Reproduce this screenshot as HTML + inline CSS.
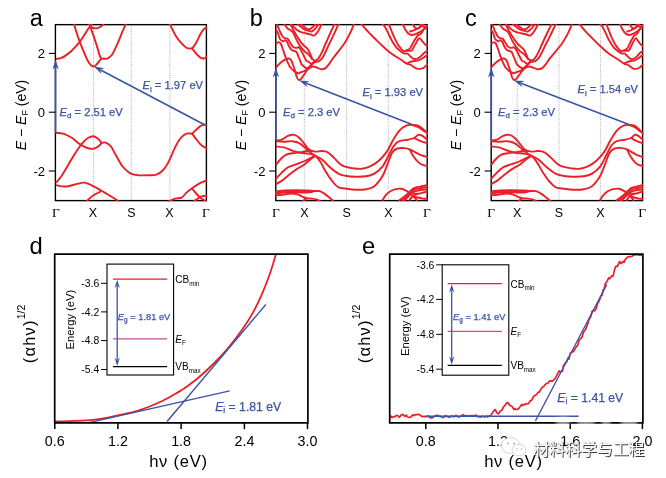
<!DOCTYPE html>
<html><head><meta charset="utf-8"><title>figure</title>
<style>
html,body{margin:0;padding:0;background:#fff;}
body{width:666px;height:478px;overflow:hidden;}
svg{display:block;font-family:"Liberation Sans","Noto Sans CJK SC",sans-serif;}
</style></head><body>
<svg width="666" height="478" viewBox="0 0 666 478">
<rect width="666" height="478" fill="#fff"/>
<clipPath id="ca"><rect x="54.7" y="23.9" width="152.4" height="177.4"/></clipPath>
<line x1="93.6" y1="24.4" x2="93.6" y2="200.4" stroke="#9a9a9a" stroke-width="0.8" stroke-dasharray="1,1.2"/>
<line x1="131.3" y1="24.4" x2="131.3" y2="200.4" stroke="#9a9a9a" stroke-width="0.8" stroke-dasharray="1,1.2"/>
<line x1="169.9" y1="24.4" x2="169.9" y2="200.4" stroke="#9a9a9a" stroke-width="0.8" stroke-dasharray="1,1.2"/>
<rect x="55.40" y="24.65" width="151.00" height="175.95" fill="none" stroke="#000" stroke-width="1.4"/>
<g clip-path="url(#ca)">
<path d="M55.9,59.0C56.7,58.8 59.0,58.7 60.7,58.1C62.4,57.5 64.0,56.7 65.9,55.4C67.8,54.1 70.1,52.2 72.2,50.2C74.3,48.1 76.6,45.6 78.5,43.3C80.4,40.9 82.2,38.3 83.7,35.9C85.3,33.6 86.8,30.8 87.9,29.2C89.0,27.6 89.5,27.3 90.2,26.3C90.9,25.3 91.6,23.9 91.9,23.4" fill="none" stroke="#ea1f27" stroke-width="1.9" />
<path d="M73.5,22.3C73.9,23.7 75.0,27.6 76.0,30.7C77.0,33.8 78.2,37.7 79.5,41.2C80.8,44.7 82.3,48.3 83.7,51.6C85.1,54.9 86.7,58.8 87.9,61.0C89.1,63.3 90.1,64.3 91.0,65.2C92.0,66.1 92.7,66.6 93.6,66.5C94.4,66.4 95.4,65.7 96.3,64.8C97.2,64.0 98.1,62.5 99.0,61.5C99.9,60.4 101.1,59.0 101.5,58.5" fill="none" stroke="#ea1f27" stroke-width="1.9" />
<path d="M88.5,23.4C88.8,23.9 89.4,24.2 90.2,26.3C91.0,28.4 92.4,32.4 93.6,35.9C94.7,39.5 96.3,44.1 97.3,47.4C98.4,50.8 99.1,54.0 99.8,55.8C100.5,57.7 100.7,58.0 101.5,58.5C102.3,59.0 103.6,58.8 104.7,58.7C105.7,58.7 106.6,59.0 107.8,58.3C109.0,57.7 110.4,57.1 112.0,54.8C113.5,52.4 115.5,48.1 117.2,44.3C119.0,40.5 120.9,35.4 122.4,31.7C124.0,28.1 125.9,23.9 126.6,22.3" fill="none" stroke="#ea1f27" stroke-width="1.9" />
<path d="M90.2,26.3C90.7,26.6 92.0,27.7 93.1,28.0C94.3,28.3 96.0,28.5 97.3,28.2C98.7,27.9 100.0,27.1 101.1,26.3C102.2,25.5 103.5,23.9 104.0,23.4" fill="none" stroke="#ea1f27" stroke-width="1.9" />
<path d="M169.0,22.3C169.3,23.0 170.0,24.4 171.0,26.5C172.1,28.6 173.7,32.3 175.2,34.9C176.8,37.5 178.5,40.0 180.5,42.2C182.4,44.4 184.8,46.9 186.7,47.9C188.7,48.8 190.4,48.9 192.0,48.1C193.5,47.2 194.8,44.9 196.2,42.6C197.6,40.3 199.0,36.6 200.3,34.3C201.7,32.0 202.9,29.9 204.1,28.8C205.3,27.7 207.1,27.8 207.7,27.6" fill="none" stroke="#ea1f27" stroke-width="1.9" />
<path d="M192.0,48.1C192.7,49.0 194.7,52.1 196.2,53.7C197.6,55.4 199.4,57.1 200.8,57.9C202.2,58.7 203.4,58.6 204.5,58.3C205.7,58.1 207.2,56.8 207.7,56.4" fill="none" stroke="#ea1f27" stroke-width="1.9" />
<path d="M55.9,132.8C57.2,133.0 61.1,133.0 63.8,133.8C66.6,134.7 69.8,136.5 72.2,138.0C74.7,139.6 76.6,141.9 78.5,143.3C80.4,144.7 82.0,145.5 83.7,146.4C85.5,147.3 87.3,148.1 89.0,148.5C90.6,148.9 92.0,149.0 93.6,148.7C95.1,148.3 97.0,147.3 98.4,146.4C99.7,145.5 100.3,143.9 101.5,143.3C102.7,142.6 104.1,142.1 105.7,142.6C107.3,143.2 109.2,144.2 110.9,146.4C112.7,148.6 114.2,152.5 116.2,155.8C118.1,159.1 120.3,163.5 122.4,166.3C124.5,169.0 127.0,171.0 128.7,172.3C130.5,173.7 131.3,174.0 133.0,174.4C134.6,174.9 136.1,175.1 138.6,175.3C141.1,175.4 145.1,175.4 148.0,175.3C151.0,175.2 154.0,175.5 156.4,174.7C158.8,173.8 160.8,172.4 162.7,170.5C164.6,168.5 166.2,166.3 167.9,163.1C169.7,160.0 171.4,155.3 173.1,151.6C174.9,148.0 176.6,143.9 178.4,141.2C180.1,138.4 182.0,136.6 183.6,135.3C185.2,134.0 186.4,133.7 187.8,133.4C189.2,133.1 190.6,134.0 192.0,133.4C193.4,132.8 194.8,130.9 196.2,129.7C197.6,128.4 199.0,126.9 200.3,126.1C201.7,125.3 202.9,124.9 204.1,124.8C205.3,124.7 207.1,125.4 207.7,125.5" fill="none" stroke="#ea1f27" stroke-width="1.9" />
<path d="M55.9,183.0C56.9,181.8 59.7,178.7 61.7,175.7C63.8,172.7 65.9,168.7 68.0,165.2C70.1,161.7 72.2,158.1 74.3,154.8C76.4,151.5 79.0,147.5 80.6,145.3C82.2,143.2 82.5,143.0 83.7,141.8C84.9,140.6 86.3,138.9 87.9,138.0C89.5,137.1 91.8,136.2 93.6,136.3C95.3,136.5 97.0,138.0 98.4,139.1C99.7,140.2 101.0,142.4 101.5,143.0" fill="none" stroke="#ea1f27" stroke-width="1.9" />
<path d="M55.9,185.1C56.9,185.3 59.7,186.2 61.7,186.4C63.8,186.5 65.6,186.5 68.0,186.2C70.5,185.8 73.8,184.7 76.4,184.1C79.0,183.5 81.6,182.6 83.7,182.6C85.8,182.6 87.0,183.3 89.0,184.1C90.9,184.8 93.1,186.1 95.2,187.2C97.3,188.3 99.4,189.5 101.5,190.8C103.6,192.0 105.7,193.3 107.8,194.5C109.9,195.8 112.2,197.1 114.1,198.3C116.0,199.5 118.4,201.3 119.3,201.9" fill="none" stroke="#ea1f27" stroke-width="1.9" />
<path d="M85.8,201.9C87.0,200.8 91.0,197.1 93.1,195.6C95.2,194.0 97.0,193.5 98.4,192.7C99.8,191.8 101.0,191.1 101.5,190.8" fill="none" stroke="#ea1f27" stroke-width="1.9" />
<path d="M192.0,133.4C192.7,134.4 194.6,137.1 196.2,139.1C197.7,141.1 199.5,143.7 201.4,145.3C203.3,147.0 206.6,148.3 207.7,148.9" fill="none" stroke="#ea1f27" stroke-width="1.9" />
<path d="M167.9,201.9C169.1,201.3 173.0,199.4 175.2,198.7C177.5,198.0 179.6,198.7 181.5,197.7C183.4,196.6 185.0,194.0 186.7,192.4C188.5,190.9 190.1,189.7 192.0,188.3C193.9,186.9 196.3,185.2 198.3,184.1C200.2,183.0 201.9,182.2 203.5,181.6C205.1,180.9 207.0,180.5 207.7,180.3" fill="none" stroke="#ea1f27" stroke-width="1.9" />
<path d="M192.0,188.3C192.7,189.1 194.8,191.9 196.2,193.5C197.6,195.1 199.1,196.6 200.3,197.7C201.6,198.7 202.4,199.1 203.5,199.8C204.6,200.5 206.5,201.5 207.0,201.9" fill="none" stroke="#ea1f27" stroke-width="1.9" />
<path d="M193.0,201.9C194.1,201.2 197.7,198.6 199.3,197.7C200.9,196.7 201.0,196.6 202.4,196.2C203.8,195.9 206.8,195.7 207.7,195.6" fill="none" stroke="#ea1f27" stroke-width="1.9" />
</g>
<line x1="55.6" y1="133.0" x2="55.6" y2="67.0" stroke="#3b54a4" stroke-width="1.6" />
<polygon points="55.6,59.5 58.8,69.5 55.6,66.5 52.4,69.5" fill="#3b54a4"/>
<line x1="205.5" y1="125.2" x2="100.6" y2="70.0" stroke="#3b54a4" stroke-width="1.6" />
<polygon points="94.0,66.5 104.3,68.3 100.2,69.8 101.4,74.0" fill="#3b54a4"/>
<line x1="48.8" y1="53.4" x2="55.4" y2="53.4" stroke="#000" stroke-width="1.1" />
<text x="45.0" y="58.0" font-size="13" text-anchor="end" fill="#000" >2</text>
<line x1="48.8" y1="112.2" x2="55.4" y2="112.2" stroke="#000" stroke-width="1.1" />
<text x="45.0" y="116.8" font-size="13" text-anchor="end" fill="#000" >0</text>
<line x1="48.8" y1="171.0" x2="55.4" y2="171.0" stroke="#000" stroke-width="1.1" />
<text x="45.0" y="175.6" font-size="13" text-anchor="end" fill="#000" >-2</text>
<text transform="translate(25.5,115) rotate(-90)" font-size="14" text-anchor="middle"><tspan font-style="italic">E</tspan> − <tspan font-style="italic">E</tspan><tspan font-size="9" dy="2.5">F</tspan><tspan dy="-2.5"> (eV)</tspan></text>
<text x="56.0" y="216.8" font-size="13.5" text-anchor="middle" fill="#000" font-family="Liberation Serif, serif">Γ</text>
<text x="93.0" y="216.8" font-size="12.5" text-anchor="middle" fill="#000" >X</text>
<text x="131.3" y="216.8" font-size="12.5" text-anchor="middle" fill="#000" >S</text>
<text x="169.4" y="216.8" font-size="12.5" text-anchor="middle" fill="#000" >X</text>
<text x="206.0" y="216.8" font-size="13.5" text-anchor="middle" fill="#000" font-family="Liberation Serif, serif">Γ</text>
<text x="29.8" y="25.8" font-size="23.5" text-anchor="start" fill="#000" >a</text>
<text x="59.5" y="115.6" font-size="11.2" fill="#3b54a4" stroke="#3b54a4" stroke-width="0.25"><tspan font-style="italic">E</tspan><tspan font-size="8" dy="2.5">d</tspan><tspan dy="-2.5"> = 2.51 eV</tspan></text>
<text x="142.5" y="89.2" font-size="11.2" fill="#3b54a4" stroke="#3b54a4" stroke-width="0.25"><tspan font-style="italic">E</tspan><tspan font-size="8" dy="2.5">i</tspan><tspan dy="-2.5"> = 1.97 eV</tspan></text>
<clipPath id="cb"><rect x="275.1" y="23.9" width="152.8" height="177.4"/></clipPath>
<line x1="304.3" y1="24.4" x2="304.3" y2="200.4" stroke="#9a9a9a" stroke-width="0.8" stroke-dasharray="1,1.2"/>
<line x1="346.6" y1="24.4" x2="346.6" y2="200.4" stroke="#9a9a9a" stroke-width="0.8" stroke-dasharray="1,1.2"/>
<line x1="388.3" y1="24.4" x2="388.3" y2="200.4" stroke="#9a9a9a" stroke-width="0.8" stroke-dasharray="1,1.2"/>
<rect x="275.80" y="24.65" width="151.40" height="175.95" fill="none" stroke="#000" stroke-width="1.4"/>
<g clip-path="url(#cb)">
<path d="M275.9,67.3C276.7,66.6 279.0,64.1 280.5,62.8C282.0,61.5 283.6,60.3 285.0,59.6C286.4,58.8 287.8,58.3 288.9,58.5C290.0,58.7 290.7,59.6 291.5,60.8C292.2,62.1 292.8,64.2 293.4,66.0C294.1,67.9 294.8,69.9 295.4,71.9C295.9,73.8 296.3,76.1 296.9,77.5C297.5,78.9 298.2,79.8 298.9,80.0C299.6,80.2 300.4,79.6 301.3,78.6C302.2,77.6 303.3,75.6 304.3,74.2C305.3,72.7 306.2,71.1 307.1,70.0C308.1,68.9 308.9,68.2 310.0,67.6C311.0,67.0 312.1,66.5 313.2,66.5C314.4,66.5 315.7,67.1 317.0,67.6C318.3,68.1 319.8,69.2 321.3,69.3C322.7,69.4 324.2,69.0 325.5,68.1C326.8,67.2 328.0,65.5 329.3,63.8C330.5,62.2 330.5,61.6 333.0,58.2C335.6,54.8 341.6,47.7 344.5,43.3C347.5,38.8 349.2,35.2 350.8,31.7C352.5,28.3 353.8,23.9 354.4,22.3" fill="none" stroke="#ea1f27" stroke-width="1.9" />
<path d="M275.9,44.0C276.4,43.7 277.8,42.2 278.5,42.1C279.3,42.0 279.8,42.4 280.5,43.4C281.1,44.3 281.7,45.8 282.4,47.9C283.2,49.9 284.1,53.3 285.0,55.7C285.9,58.0 286.7,60.2 287.6,62.1C288.5,64.1 289.2,65.9 290.2,67.3C291.2,68.7 292.1,69.6 293.4,70.6C294.7,71.5 296.6,72.9 298.0,73.2C299.3,73.4 300.3,72.4 301.5,72.0C302.6,71.6 303.8,71.4 304.8,70.9C305.8,70.4 306.7,69.8 307.6,69.0C308.5,68.2 309.5,66.9 310.4,65.9C311.4,64.9 312.3,63.6 313.2,62.9C314.2,62.2 315.1,62.0 316.1,61.8C317.0,61.5 317.9,61.8 318.9,61.2C319.9,60.6 321.2,59.5 322.2,58.2C323.2,56.8 324.2,54.7 325.0,53.0C325.9,51.3 325.9,51.0 327.4,47.8C328.9,44.6 332.1,38.1 334.1,33.8C336.1,29.6 338.4,24.2 339.3,22.3" fill="none" stroke="#ea1f27" stroke-width="1.9" />
<path d="M275.9,29.8C276.3,30.3 277.2,31.5 277.9,33.0C278.5,34.5 279.0,37.4 279.8,38.8C280.7,40.2 282.2,41.2 283.1,41.4C283.9,41.6 284.4,40.1 285.0,40.1C285.7,40.1 286.3,40.5 286.9,41.4C287.6,42.4 288.1,44.6 288.9,46.0C289.6,47.4 290.5,49.0 291.5,49.8C292.5,50.7 293.9,50.7 294.7,51.1C295.6,51.6 296.0,51.5 296.7,52.4C297.3,53.4 297.8,55.1 298.6,57.0C299.4,58.8 300.6,62.1 301.2,63.4C301.8,64.8 301.6,64.5 302.4,65.2C303.3,66.0 305.0,67.8 306.2,68.1C307.4,68.4 308.5,67.8 309.5,67.1C310.4,66.5 311.1,65.2 311.8,64.3C312.6,63.4 313.3,62.2 314.2,61.5C315.1,60.8 316.1,60.9 317.0,60.1C318.0,59.2 318.9,57.9 319.8,56.3C320.8,54.7 321.8,52.5 322.7,50.6C323.5,48.8 323.6,48.2 325.0,45.0C326.4,41.8 329.2,35.5 330.9,31.7C332.6,28.0 334.6,23.9 335.3,22.3" fill="none" stroke="#ea1f27" stroke-width="1.9" />
<path d="M276.8,23.9C277.3,25.1 278.9,29.0 279.8,31.1C280.8,33.1 281.6,35.1 282.4,36.2C283.3,37.4 284.1,37.8 285.0,38.2C285.9,38.6 286.7,38.1 287.6,38.8C288.5,39.6 289.3,41.4 290.2,42.7C291.1,44.0 291.8,45.7 292.8,46.6C293.7,47.5 295.0,47.8 296.0,47.9C297.0,48.0 297.8,47.0 298.6,47.3C299.4,47.5 299.8,48.0 300.5,49.2C301.3,50.4 302.2,52.4 303.1,54.4C304.1,56.3 305.6,59.7 306.4,60.8C307.2,62.0 307.2,61.0 308.1,61.5C308.9,62.0 310.5,63.5 311.4,63.8C312.2,64.1 312.9,63.4 313.2,63.4" fill="none" stroke="#ea1f27" stroke-width="1.9" />
<path d="M284.1,23.9C284.7,24.7 286.5,27.4 287.6,28.5C288.7,29.6 289.9,29.7 290.8,30.4C291.8,31.2 292.5,31.4 293.4,33.0C294.4,34.6 295.5,37.9 296.7,40.1C297.8,42.4 299.3,44.8 300.5,46.6C301.8,48.4 303.1,49.8 304.4,51.1C305.8,52.4 307.2,53.1 308.5,54.4C309.9,55.7 311.2,58.1 312.3,59.1C313.4,60.1 314.3,60.4 315.1,60.5C315.9,60.7 316.7,60.1 317.0,60.1" fill="none" stroke="#ea1f27" stroke-width="1.9" />
<path d="M290.2,23.9C290.9,25.3 293.3,29.9 294.7,32.4C296.1,34.8 297.4,37.0 298.6,38.8C299.8,40.7 300.8,42.1 301.8,43.4C302.9,44.7 304.0,45.5 305.1,46.6C306.2,47.7 307.1,47.8 308.3,49.8C309.5,51.9 311.6,57.6 312.3,59.1" fill="none" stroke="#ea1f27" stroke-width="1.9" />
<path d="M291.1,23.9C292.0,24.9 294.9,28.4 296.7,29.8C298.5,31.2 299.6,31.6 301.8,32.4C304.1,33.1 307.9,33.8 310.0,34.3C312.1,34.8 312.8,36.1 314.2,35.5C315.6,34.9 317.1,32.7 318.4,30.7C319.7,28.7 321.3,24.6 321.9,23.4" fill="none" stroke="#ea1f27" stroke-width="1.9" />
<path d="M297.3,23.9C298.4,24.8 301.7,27.9 303.8,29.1C305.9,30.3 308.6,30.7 310.0,31.1C311.4,31.4 311.0,31.9 312.1,31.3C313.1,30.7 315.1,28.9 316.3,27.6C317.4,26.2 318.5,24.1 319.0,23.4" fill="none" stroke="#ea1f27" stroke-width="1.9" />
<path d="M300.5,23.9C301.5,24.7 304.8,27.6 306.4,28.5C307.9,29.3 309.2,29.2 310.0,29.1C310.8,29.0 310.7,28.7 311.5,28.0C312.3,27.3 314.0,25.8 314.8,25.0C315.6,24.3 316.0,23.7 316.3,23.4" fill="none" stroke="#ea1f27" stroke-width="1.9" />
<path d="M360.1,22.3C361.4,23.9 365.3,28.8 368.0,31.7C370.7,34.7 373.6,37.4 376.4,40.1C379.2,42.9 382.8,46.2 385.0,48.2C387.2,50.2 387.9,50.9 389.6,52.2C391.3,53.6 393.4,55.0 395.4,56.3C397.3,57.5 399.2,58.5 401.1,59.7C403.0,61.0 405.3,62.9 406.9,63.7C408.4,64.6 409.3,64.2 410.3,64.7C411.4,65.1 412.2,66.0 413.2,66.6C414.2,67.2 415.0,68.0 416.1,68.3C417.1,68.7 418.3,69.0 419.5,68.9C420.8,68.8 422.2,68.5 423.6,67.8C424.9,67.0 427.1,64.9 427.8,64.3" fill="none" stroke="#ea1f27" stroke-width="1.9" />
<path d="M406.9,63.7C407.3,63.5 408.6,62.6 409.7,62.1C410.9,61.7 412.3,61.3 413.8,61.0C415.2,60.7 416.8,60.9 418.4,60.4C419.9,59.9 421.4,59.0 423.0,58.0C424.6,57.0 427.0,55.1 427.8,54.5" fill="none" stroke="#ea1f27" stroke-width="1.9" />
<path d="M381.2,22.3C381.8,23.1 383.8,25.0 385.0,26.9C386.2,28.8 387.3,31.5 388.5,33.8C389.6,36.1 390.6,38.4 391.9,40.7C393.2,43.0 395.0,45.8 396.5,47.6C398.0,49.4 399.9,50.7 401.1,51.6C402.4,52.6 402.9,53.0 404.0,53.4C405.0,53.7 406.5,53.2 407.4,53.6C408.4,54.0 408.8,54.9 409.7,55.7C410.7,56.5 412.0,58.1 413.2,58.6C414.4,59.1 416.0,59.0 417.2,58.7C418.5,58.3 419.5,57.3 420.7,56.4C421.8,55.4 422.9,54.0 424.1,53.0C425.3,52.1 427.2,51.0 427.8,50.6" fill="none" stroke="#ea1f27" stroke-width="1.9" />
<path d="M388.7,23.5C389.1,24.6 390.4,28.1 391.3,30.4C392.3,32.7 393.2,35.0 394.2,37.3C395.3,39.6 396.5,42.3 397.7,44.2C398.8,46.1 400.2,47.6 401.1,48.8C402.1,49.9 402.6,50.8 403.4,51.1C404.3,51.4 405.2,50.9 406.3,50.5C407.3,50.1 408.8,49.7 409.7,48.8C410.7,47.8 411.2,46.3 412.0,44.7C412.9,43.2 414.0,41.1 414.9,39.6C415.9,38.0 416.8,36.5 417.8,35.5C418.8,34.6 419.6,34.9 420.7,33.8C421.7,32.8 422.9,30.5 424.1,29.2C425.3,28.0 427.2,26.8 427.8,26.3" fill="none" stroke="#ea1f27" stroke-width="1.9" />
<path d="M406.3,50.7C407.2,50.7 410.2,51.2 411.5,50.6C412.7,50.0 412.9,48.5 413.8,47.0C414.6,45.6 415.7,43.4 416.6,41.9C417.6,40.4 418.6,38.2 419.5,38.1C420.5,38.0 421.4,40.2 422.4,41.3C423.4,42.4 424.4,43.9 425.3,44.7C426.2,45.6 427.4,46.0 427.8,46.2" fill="none" stroke="#ea1f27" stroke-width="1.9" />
<path d="M402.5,23.5C402.9,24.4 404.2,27.6 405.1,29.2C406.1,30.8 406.9,32.3 408.0,33.2C409.2,34.2 410.7,34.9 412.0,35.0C413.4,35.1 414.6,34.4 416.1,33.8C417.5,33.2 419.2,32.4 420.7,31.5C422.1,30.6 423.5,29.6 424.7,28.6C425.9,27.6 427.3,26.0 427.8,25.5" fill="none" stroke="#ea1f27" stroke-width="1.9" />
<path d="M412.2,23.5C412.6,24.1 414.0,26.6 414.9,27.5C415.9,28.3 416.8,28.7 417.8,28.6C418.8,28.5 419.7,27.7 420.7,26.9C421.7,26.1 423.4,24.2 423.9,23.7" fill="none" stroke="#ea1f27" stroke-width="1.9" />
<path d="M409.2,31.7C409.9,31.5 412.2,31.0 413.8,30.4C415.3,29.7 417.0,29.0 418.4,28.1C419.8,27.1 421.3,25.4 422.1,24.6C422.8,23.8 422.8,23.6 423.0,23.5" fill="none" stroke="#ea1f27" stroke-width="1.9" />
<path d="M419.5,23.5C420.1,23.9 422.0,25.8 423.0,26.3C423.9,26.9 424.5,27.2 425.3,26.9C426.1,26.7 427.4,25.2 427.8,24.8" fill="none" stroke="#ea1f27" stroke-width="1.9" />
<path d="M275.9,140.5C276.9,140.4 279.7,140.5 281.7,139.7C283.8,138.9 285.9,136.7 288.0,135.9C290.1,135.1 292.4,134.5 294.3,134.9C296.2,135.2 297.8,136.5 299.5,138.0C301.3,139.6 303.2,142.4 304.8,144.3C306.3,146.2 307.2,148.3 309.0,149.5C310.7,150.8 313.1,151.4 315.2,151.6C317.3,151.9 319.4,150.9 321.5,151.0C323.6,151.1 325.7,151.1 327.8,152.3C329.9,153.4 332.0,155.9 334.1,157.9C336.2,159.9 338.5,162.7 340.3,164.2C342.2,165.7 342.8,166.0 345.0,166.7C347.2,167.4 350.6,168.0 353.4,168.4C356.2,168.7 359.0,169.1 361.7,168.8C364.5,168.4 367.3,167.6 370.1,166.3C372.9,165.0 375.7,163.5 378.5,161.0C381.3,158.6 384.4,155.1 386.9,151.6C389.3,148.1 391.0,143.6 393.1,140.1C395.2,136.6 397.3,133.1 399.4,130.7C401.5,128.3 403.6,126.8 405.7,125.9C407.8,124.9 409.9,124.8 412.0,125.0C414.1,125.3 416.3,126.2 418.3,127.1C420.2,128.1 421.8,129.7 423.5,130.7C425.2,131.7 427.5,133.0 428.3,133.4" fill="none" stroke="#ea1f27" stroke-width="1.9" />
<path d="M275.9,141.2C277.2,141.3 281.1,141.8 283.8,141.8C286.6,141.8 289.6,140.9 292.2,141.2C294.8,141.4 297.3,142.0 299.5,143.3C301.8,144.5 303.7,146.7 305.8,148.5C307.9,150.2 310.2,152.3 312.1,153.7C314.0,155.1 315.6,155.8 317.3,156.9C319.1,157.9 320.5,158.3 322.6,160.0C324.7,161.7 327.3,165.1 329.9,167.3C332.5,169.6 335.7,172.2 338.3,173.6C340.8,175.0 342.1,175.2 345.0,175.7C347.9,176.2 352.0,176.6 355.5,176.7C359.0,176.8 362.8,176.8 365.9,176.3C369.1,175.8 371.5,175.3 374.3,173.6C377.1,171.9 380.2,169.4 382.7,166.3C385.1,163.1 387.0,158.3 389.0,154.8C390.9,151.3 392.4,147.6 394.2,145.3C395.9,143.1 397.2,142.1 399.4,141.2C401.7,140.2 405.3,140.2 407.8,139.7C410.2,139.2 412.3,138.8 414.1,138.0C415.8,137.2 416.9,135.2 418.3,134.9C419.7,134.5 420.8,135.0 422.4,135.9C424.1,136.9 427.3,139.8 428.3,140.5" fill="none" stroke="#ea1f27" stroke-width="1.9" />
<path d="M275.9,146.4C277.2,146.6 281.1,146.7 283.8,147.4C286.6,148.1 289.4,149.7 292.2,150.6C295.0,151.5 297.8,152.2 300.6,152.7C303.4,153.2 306.5,153.2 309.0,153.7C311.4,154.2 313.3,154.4 315.2,155.8C317.2,157.2 318.7,159.5 320.5,162.1C322.2,164.7 323.8,168.4 325.7,171.5C327.6,174.7 329.9,178.3 332.0,180.9C334.1,183.5 336.1,186.0 338.3,187.2C340.4,188.5 342.1,188.0 345.0,188.5C347.9,188.9 352.0,189.6 355.5,189.7C359.0,189.9 362.8,189.9 365.9,189.3C369.1,188.7 371.5,188.4 374.3,186.2C377.1,183.9 380.4,179.5 382.7,175.7C384.9,171.9 386.3,167.0 387.9,163.1C389.5,159.3 390.5,155.1 392.1,152.7C393.7,150.2 395.2,149.3 397.3,148.5C399.4,147.7 402.6,147.9 404.7,148.1C406.7,148.2 408.3,148.9 409.9,149.5C411.5,150.1 412.3,150.8 414.1,151.6C415.8,152.5 418.0,153.8 420.3,154.8C422.7,155.7 427.0,156.9 428.3,157.3" fill="none" stroke="#ea1f27" stroke-width="1.9" />
<path d="M275.9,165.2C276.7,164.2 279.0,160.7 280.7,159.0C282.4,157.2 284.0,155.7 285.9,154.8C287.8,153.8 289.8,153.7 292.2,153.3C294.7,152.9 298.1,152.6 300.6,152.3C303.0,151.9 304.9,151.2 306.9,151.0C308.8,150.8 311.2,151.0 312.1,151.0" fill="none" stroke="#ea1f27" stroke-width="1.9" />
<path d="M275.9,178.8C276.9,177.8 279.7,174.5 281.7,172.6C283.8,170.6 285.6,168.7 288.0,167.3C290.5,165.9 293.6,165.2 296.4,164.2C299.2,163.1 302.3,162.1 304.8,161.0C307.2,160.0 309.3,158.8 311.0,157.9C312.8,157.0 314.5,156.2 315.2,155.8" fill="none" stroke="#ea1f27" stroke-width="1.9" />
<path d="M275.9,184.1C276.9,183.5 279.7,182.3 281.7,180.9C283.8,179.5 285.6,177.6 288.0,175.7C290.5,173.8 293.6,171.3 296.4,169.4C299.2,167.5 302.2,166.1 304.8,164.2C307.4,162.3 310.2,159.3 312.1,157.9C314.0,156.5 315.6,156.2 316.3,155.8" fill="none" stroke="#ea1f27" stroke-width="1.9" />
<path d="M275.3,191.6C277.0,191.4 282.3,190.7 285.8,190.5C289.3,190.3 292.8,190.2 296.3,190.2C299.8,190.2 303.8,190.4 306.8,190.5C309.8,190.6 312.1,190.9 314.2,191.0C316.3,191.1 317.8,190.8 319.4,191.1C321.0,191.5 322.2,192.3 323.6,193.1C325.0,194.0 326.2,194.9 327.8,196.3C329.5,197.7 332.7,200.5 333.6,201.3" fill="none" stroke="#ea1f27" stroke-width="1.9" />
<path d="M275.3,193.7C276.5,193.5 280.3,192.9 282.6,192.6C284.9,192.3 286.6,192.1 288.9,192.1C291.2,192.0 293.8,192.2 296.3,192.3C298.7,192.4 301.4,192.6 303.6,192.6C305.9,192.6 308.2,192.5 310.0,192.2C311.7,191.9 313.5,191.2 314.2,191.0" fill="none" stroke="#ea1f27" stroke-width="1.9" />
<path d="M275.3,195.4C276.5,195.3 280.3,195.0 282.6,194.7C284.9,194.4 287.0,193.8 288.9,193.7C290.9,193.5 292.6,193.5 294.2,193.7C295.8,193.8 297.0,194.2 298.4,194.7C299.8,195.2 301.2,196.2 302.6,196.8C304.0,197.4 305.2,197.9 306.8,198.2C308.4,198.5 310.5,198.4 312.1,198.6C313.6,198.8 314.9,199.0 316.3,199.4C317.6,199.9 319.6,201.0 320.3,201.3" fill="none" stroke="#ea1f27" stroke-width="1.9" />
<path d="M302.8,201.3C303.2,201.0 304.6,199.8 305.2,199.2C305.9,198.7 306.5,198.4 306.8,198.2" fill="none" stroke="#ea1f27" stroke-width="1.9" />
<path d="M275.3,192.6C276.5,192.4 280.0,191.8 282.6,191.6C285.2,191.3 287.9,191.3 291.0,191.3C294.2,191.3 298.4,191.5 301.5,191.6C304.7,191.6 308.6,191.6 310.0,191.6" fill="none" stroke="#ea1f27" stroke-width="1.9" />
<path d="M409.9,149.5C410.4,150.6 411.6,153.7 413.0,155.8C414.4,157.9 416.5,160.5 418.3,162.1C420.0,163.7 421.8,164.6 423.5,165.2C425.2,165.9 427.5,165.8 428.3,165.9" fill="none" stroke="#ea1f27" stroke-width="1.9" />
<path d="M414.1,138.0C414.8,138.4 416.7,139.4 418.3,140.1C419.8,140.8 421.8,141.7 423.5,142.2C425.2,142.8 427.5,143.3 428.3,143.5" fill="none" stroke="#ea1f27" stroke-width="1.9" />
<path d="M412.0,125.0C412.8,125.1 415.5,124.9 417.2,125.5C419.0,126.1 420.6,127.1 422.4,128.6C424.3,130.1 427.3,133.3 428.3,134.3" fill="none" stroke="#ea1f27" stroke-width="1.9" />
<path d="M382.2,200.6C382.8,199.7 384.5,196.8 385.8,195.2C387.2,193.6 388.7,192.2 390.3,191.2C392.0,190.2 393.9,189.5 395.7,189.1C397.5,188.7 399.5,188.5 401.1,188.7C402.8,188.9 404.3,189.6 405.6,190.3C407.0,190.9 408.0,191.8 409.2,192.7C410.4,193.6 411.8,195.0 412.8,195.9C413.9,196.9 414.8,197.8 415.5,198.6C416.3,199.5 417.2,200.5 417.5,200.8" fill="none" stroke="#ea1f27" stroke-width="1.9" />
<path d="M398.6,200.8C399.5,200.2 402.2,198.3 403.8,197.0C405.5,195.8 407.1,194.3 408.3,193.2C409.5,192.2 410.0,191.4 411.0,190.5C412.1,189.6 413.1,188.5 414.6,187.8C416.1,187.2 417.9,187.0 420.0,186.6C422.2,186.1 426.4,185.3 427.7,185.0" fill="none" stroke="#ea1f27" stroke-width="1.9" />
<path d="M401.8,200.8C402.6,200.1 405.1,198.0 406.5,196.6C408.0,195.1 409.2,193.3 410.6,192.1C411.9,190.9 413.1,190.0 414.6,189.4C416.2,188.7 417.9,188.7 420.0,188.3C422.2,187.9 426.4,187.2 427.7,187.0" fill="none" stroke="#ea1f27" stroke-width="1.9" />
<path d="M404.0,200.8C404.7,200.1 407.0,197.9 408.3,196.6C409.7,195.3 410.7,193.9 411.9,193.0C413.1,192.1 414.0,191.7 415.5,191.2C417.0,190.7 418.9,190.3 420.9,190.0C423.0,189.7 426.6,189.3 427.7,189.2" fill="none" stroke="#ea1f27" stroke-width="1.9" />
<path d="M411.0,193.0C411.6,193.1 413.3,193.5 414.6,193.6C416.0,193.7 417.6,193.8 419.1,193.6C420.6,193.4 422.2,192.8 423.6,192.5C425.1,192.2 427.0,191.9 427.7,191.8" fill="none" stroke="#ea1f27" stroke-width="1.9" />
<path d="M412.8,195.9C413.6,196.2 415.7,197.1 417.3,197.5C419.0,197.9 421.0,198.2 422.7,198.5C424.5,198.7 426.9,198.9 427.7,199.0" fill="none" stroke="#ea1f27" stroke-width="1.9" />
<path d="M409.1,200.8C409.5,200.2 411.0,198.0 411.9,197.0C412.9,196.0 413.6,195.3 414.6,194.8C415.7,194.3 417.6,194.1 418.2,194.0" fill="none" stroke="#ea1f27" stroke-width="1.9" />
</g>
<line x1="275.9" y1="140.0" x2="275.9" y2="75.0" stroke="#3b54a4" stroke-width="1.6" />
<polygon points="275.9,67.5 279.1,77.5 275.9,74.5 272.7,77.5" fill="#3b54a4"/>
<line x1="412.0" y1="124.4" x2="306.2" y2="83.3" stroke="#3b54a4" stroke-width="1.6" />
<polygon points="299.2,80.6 309.7,81.2 305.7,83.1 307.4,87.2" fill="#3b54a4"/>
<line x1="269.2" y1="53.4" x2="275.8" y2="53.4" stroke="#000" stroke-width="1.1" />
<text x="265.4" y="58.0" font-size="13" text-anchor="end" fill="#000" >2</text>
<line x1="269.2" y1="112.2" x2="275.8" y2="112.2" stroke="#000" stroke-width="1.1" />
<text x="265.4" y="116.8" font-size="13" text-anchor="end" fill="#000" >0</text>
<line x1="269.2" y1="171.0" x2="275.8" y2="171.0" stroke="#000" stroke-width="1.1" />
<text x="265.4" y="175.6" font-size="13" text-anchor="end" fill="#000" >-2</text>
<text transform="translate(245.5,115) rotate(-90)" font-size="14" text-anchor="middle"><tspan font-style="italic">E</tspan> − <tspan font-style="italic">E</tspan><tspan font-size="9" dy="2.5">F</tspan><tspan dy="-2.5"> (eV)</tspan></text>
<text x="275.9" y="216.8" font-size="13.5" text-anchor="middle" fill="#000" font-family="Liberation Serif, serif">Γ</text>
<text x="304.3" y="216.8" font-size="12.5" text-anchor="middle" fill="#000" >X</text>
<text x="346.6" y="216.8" font-size="12.5" text-anchor="middle" fill="#000" >S</text>
<text x="388.3" y="216.8" font-size="12.5" text-anchor="middle" fill="#000" >X</text>
<text x="426.8" y="216.8" font-size="13.5" text-anchor="middle" fill="#000" font-family="Liberation Serif, serif">Γ</text>
<text x="249.7" y="25.8" font-size="23.5" text-anchor="start" fill="#000" >b</text>
<text x="283" y="115.6" font-size="11.2" fill="#3b54a4" stroke="#3b54a4" stroke-width="0.25"><tspan font-style="italic">E</tspan><tspan font-size="8" dy="2.5">d</tspan><tspan dy="-2.5"> = 2.3 eV</tspan></text>
<text x="362.5" y="96" font-size="11.2" fill="#3b54a4" stroke="#3b54a4" stroke-width="0.25"><tspan font-style="italic">E</tspan><tspan font-size="8" dy="2.5">i</tspan><tspan dy="-2.5"> = 1.93 eV</tspan></text>
<clipPath id="cc"><rect x="490.5" y="23.9" width="152.8" height="177.4"/></clipPath>
<line x1="517.2" y1="24.4" x2="517.2" y2="200.4" stroke="#9a9a9a" stroke-width="0.8" stroke-dasharray="1,1.2"/>
<line x1="559.0" y1="24.4" x2="559.0" y2="200.4" stroke="#9a9a9a" stroke-width="0.8" stroke-dasharray="1,1.2"/>
<line x1="600.4" y1="24.4" x2="600.4" y2="200.4" stroke="#9a9a9a" stroke-width="0.8" stroke-dasharray="1,1.2"/>
<rect x="491.20" y="24.65" width="151.40" height="175.95" fill="none" stroke="#000" stroke-width="1.4"/>
<g clip-path="url(#cc)">
<path d="M491.1,67.3C491.9,66.6 494.2,64.1 495.7,62.8C497.2,61.5 498.8,60.3 500.2,59.6C501.6,58.8 503.0,58.3 504.1,58.5C505.2,58.7 505.9,59.6 506.7,60.8C507.4,62.1 508.0,64.2 508.6,66.0C509.3,67.9 510.0,69.9 510.6,71.9C511.1,73.8 511.5,76.1 512.1,77.5C512.7,78.9 513.4,79.8 514.1,80.0C514.9,80.2 515.7,79.6 516.6,78.6C517.6,77.6 518.8,75.6 519.8,74.2C520.8,72.7 521.8,71.1 522.8,70.0C523.8,68.9 524.7,68.2 525.8,67.6C526.8,67.0 528.0,66.5 529.2,66.5C530.5,66.5 531.8,67.1 533.2,67.6C534.6,68.1 536.2,69.2 537.7,69.3C539.1,69.4 540.7,69.0 542.1,68.1C543.5,67.2 544.8,65.5 546.1,63.8C547.4,62.2 547.4,61.6 550.0,58.2C552.7,54.8 559.0,47.7 562.2,43.3C565.3,38.8 567.1,35.2 568.8,31.7C570.5,28.3 571.8,23.9 572.4,22.3" fill="none" stroke="#ea1f27" stroke-width="1.9" />
<path d="M491.1,44.0C491.6,43.7 493.0,42.2 493.7,42.1C494.5,42.0 495.0,42.4 495.7,43.4C496.3,44.3 496.9,45.8 497.6,47.9C498.4,49.9 499.3,53.3 500.2,55.7C501.1,58.0 501.9,60.2 502.8,62.1C503.7,64.1 504.4,65.9 505.4,67.3C506.4,68.7 507.3,69.6 508.6,70.6C509.9,71.5 511.8,72.9 513.2,73.2C514.5,73.4 515.6,72.4 516.8,72.0C518.0,71.6 519.2,71.4 520.3,70.9C521.4,70.4 522.3,69.8 523.3,69.0C524.3,68.2 525.3,66.9 526.3,65.9C527.2,64.9 528.2,63.6 529.2,62.9C530.2,62.2 531.2,62.0 532.2,61.8C533.2,61.5 534.1,61.8 535.2,61.2C536.2,60.6 537.6,59.5 538.6,58.2C539.7,56.8 540.7,54.7 541.6,53.0C542.5,51.3 542.5,51.0 544.1,47.8C545.7,44.6 549.1,38.1 551.1,33.8C553.2,29.6 555.7,24.2 556.7,22.3" fill="none" stroke="#ea1f27" stroke-width="1.9" />
<path d="M491.1,29.8C491.5,30.3 492.4,31.5 493.1,33.0C493.7,34.5 494.2,37.4 495.0,38.8C495.9,40.2 497.4,41.2 498.3,41.4C499.1,41.6 499.6,40.1 500.2,40.1C500.9,40.1 501.5,40.5 502.1,41.4C502.8,42.4 503.3,44.6 504.1,46.0C504.8,47.4 505.7,49.0 506.7,49.8C507.7,50.7 509.1,50.7 509.9,51.1C510.8,51.6 511.2,51.5 511.9,52.4C512.5,53.4 513.0,55.1 513.8,57.0C514.6,58.8 515.9,62.1 516.5,63.4C517.2,64.8 517.0,64.5 517.8,65.2C518.7,66.0 520.6,67.8 521.8,68.1C523.0,68.4 524.3,67.8 525.3,67.1C526.3,66.5 526.9,65.2 527.7,64.3C528.6,63.4 529.3,62.2 530.2,61.5C531.1,60.8 532.2,60.9 533.2,60.1C534.2,59.2 535.2,57.9 536.2,56.3C537.2,54.7 538.2,52.5 539.1,50.6C540.0,48.8 540.2,48.2 541.6,45.0C543.1,41.8 546.0,35.5 547.8,31.7C549.7,28.0 551.7,23.9 552.5,22.3" fill="none" stroke="#ea1f27" stroke-width="1.9" />
<path d="M492.0,23.9C492.5,25.1 494.1,29.0 495.0,31.1C496.0,33.1 496.8,35.1 497.6,36.2C498.5,37.4 499.3,37.8 500.2,38.2C501.1,38.6 501.9,38.1 502.8,38.8C503.7,39.6 504.5,41.4 505.4,42.7C506.3,44.0 507.0,45.7 508.0,46.6C508.9,47.5 510.2,47.8 511.2,47.9C512.2,48.0 513.0,47.0 513.8,47.3C514.6,47.5 515.1,48.0 515.9,49.2C516.6,50.4 517.6,52.4 518.6,54.4C519.6,56.3 521.1,59.7 522.0,60.8C522.9,62.0 522.9,61.0 523.8,61.5C524.7,62.0 526.3,63.5 527.2,63.8C528.2,64.1 528.9,63.4 529.2,63.4" fill="none" stroke="#ea1f27" stroke-width="1.9" />
<path d="M499.3,23.9C499.9,24.7 501.7,27.4 502.8,28.5C503.9,29.6 505.1,29.7 506.0,30.4C507.0,31.2 507.7,31.4 508.6,33.0C509.6,34.6 510.7,37.9 511.9,40.1C513.1,42.4 514.5,44.8 515.9,46.6C517.2,48.4 518.5,49.8 519.9,51.1C521.3,52.4 522.9,53.1 524.3,54.4C525.7,55.7 527.1,58.1 528.2,59.1C529.4,60.1 530.4,60.4 531.2,60.5C532.0,60.7 532.9,60.1 533.2,60.1" fill="none" stroke="#ea1f27" stroke-width="1.9" />
<path d="M505.4,23.9C506.1,25.3 508.5,29.9 509.9,32.4C511.3,34.8 512.6,37.0 513.8,38.8C515.0,40.7 516.1,42.1 517.2,43.4C518.4,44.7 519.5,45.5 520.6,46.6C521.8,47.7 522.8,47.8 524.0,49.8C525.3,51.9 527.5,57.6 528.2,59.1" fill="none" stroke="#ea1f27" stroke-width="1.9" />
<path d="M506.3,23.9C507.2,24.9 510.0,28.4 511.9,29.8C513.7,31.2 514.9,31.6 517.2,32.4C519.5,33.1 523.6,33.8 525.8,34.3C528.0,34.8 528.7,36.1 530.2,35.5C531.7,34.9 533.3,32.7 534.6,30.7C536.0,28.7 537.7,24.6 538.4,23.4" fill="none" stroke="#ea1f27" stroke-width="1.9" />
<path d="M512.5,23.9C513.6,24.8 517.0,27.9 519.3,29.1C521.5,30.3 524.3,30.7 525.8,31.1C527.3,31.4 526.9,31.9 528.0,31.3C529.1,30.7 531.2,28.9 532.4,27.6C533.6,26.2 534.8,24.1 535.3,23.4" fill="none" stroke="#ea1f27" stroke-width="1.9" />
<path d="M515.9,23.9C516.9,24.7 520.3,27.6 522.0,28.5C523.6,29.3 524.9,29.2 525.8,29.1C526.7,29.0 526.5,28.7 527.3,28.0C528.2,27.3 530.0,25.8 530.9,25.0C531.7,24.3 532.2,23.7 532.4,23.4" fill="none" stroke="#ea1f27" stroke-width="1.9" />
<path d="M578.0,22.3C579.3,23.9 583.1,28.8 585.8,31.7C588.5,34.7 591.3,37.4 594.1,40.1C596.9,42.9 600.4,46.2 602.6,48.2C604.7,50.2 605.4,50.9 607.1,52.2C608.8,53.6 610.9,55.0 612.8,56.3C614.7,57.5 616.6,58.5 618.5,59.7C620.3,61.0 622.6,62.9 624.1,63.7C625.6,64.6 626.5,64.2 627.5,64.7C628.6,65.1 629.4,66.0 630.3,66.6C631.1,67.2 631.9,68.0 632.8,68.3C633.7,68.7 634.7,69.0 635.8,68.9C636.9,68.8 638.2,68.5 639.4,67.8C640.6,67.0 642.5,64.9 643.1,64.3" fill="none" stroke="#ea1f27" stroke-width="1.9" />
<path d="M624.1,63.7C624.6,63.5 625.9,62.6 627.0,62.1C628.1,61.7 629.5,61.3 630.8,61.0C632.1,60.7 633.5,60.9 634.8,60.4C636.2,59.9 637.5,59.0 638.9,58.0C640.3,57.0 642.4,55.1 643.1,54.5" fill="none" stroke="#ea1f27" stroke-width="1.9" />
<path d="M598.8,22.3C599.4,23.1 601.4,25.0 602.6,26.9C603.7,28.8 604.8,31.5 606.0,33.8C607.1,36.1 608.0,38.4 609.4,40.7C610.7,43.0 612.4,45.8 613.9,47.6C615.4,49.4 617.2,50.7 618.5,51.6C619.7,52.6 620.3,53.0 621.3,53.4C622.3,53.7 623.8,53.2 624.7,53.6C625.6,54.0 626.0,54.9 627.0,55.7C627.9,56.5 629.1,58.1 630.3,58.6C631.4,59.1 632.7,59.0 633.8,58.7C634.9,58.3 635.8,57.3 636.9,56.4C637.9,55.4 638.8,54.0 639.9,53.0C640.9,52.1 642.6,51.0 643.1,50.6" fill="none" stroke="#ea1f27" stroke-width="1.9" />
<path d="M606.2,23.5C606.6,24.6 607.9,28.1 608.8,30.4C609.7,32.7 610.6,35.0 611.6,37.3C612.7,39.6 613.9,42.3 615.1,44.2C616.2,46.1 617.5,47.6 618.5,48.8C619.4,49.9 619.9,50.8 620.7,51.1C621.6,51.4 622.5,50.9 623.6,50.5C624.6,50.1 626.0,49.7 627.0,48.8C627.9,47.8 628.4,46.3 629.2,44.7C630.0,43.2 630.9,41.1 631.8,39.6C632.6,38.0 633.5,36.5 634.3,35.5C635.2,34.6 635.9,34.9 636.9,33.8C637.8,32.8 638.8,30.5 639.9,29.2C640.9,28.0 642.6,26.8 643.1,26.3" fill="none" stroke="#ea1f27" stroke-width="1.9" />
<path d="M623.6,50.7C624.4,50.7 627.5,51.2 628.7,50.6C629.9,50.0 630.0,48.5 630.8,47.0C631.5,45.6 632.5,43.4 633.3,41.9C634.1,40.4 635.0,38.2 635.8,38.1C636.7,38.0 637.5,40.2 638.4,41.3C639.2,42.4 640.1,43.9 640.9,44.7C641.7,45.6 642.8,46.0 643.1,46.2" fill="none" stroke="#ea1f27" stroke-width="1.9" />
<path d="M619.8,23.5C620.3,24.4 621.5,27.6 622.4,29.2C623.3,30.8 624.1,32.3 625.3,33.2C626.4,34.2 628.0,34.9 629.2,35.0C630.5,35.1 631.5,34.4 632.8,33.8C634.1,33.2 635.6,32.4 636.9,31.5C638.1,30.6 639.4,29.6 640.4,28.6C641.5,27.6 642.7,26.0 643.1,25.5" fill="none" stroke="#ea1f27" stroke-width="1.9" />
<path d="M629.3,23.5C629.8,24.1 631.0,26.6 631.8,27.5C632.6,28.3 633.5,28.7 634.3,28.6C635.2,28.5 636.0,27.7 636.9,26.9C637.7,26.1 639.2,24.2 639.7,23.7" fill="none" stroke="#ea1f27" stroke-width="1.9" />
<path d="M626.4,31.7C627.1,31.5 629.4,31.0 630.8,30.4C632.2,29.7 633.6,29.0 634.8,28.1C636.0,27.1 637.4,25.4 638.1,24.6C638.7,23.8 638.7,23.6 638.9,23.5" fill="none" stroke="#ea1f27" stroke-width="1.9" />
<path d="M635.8,23.5C636.3,23.9 638.0,25.8 638.9,26.3C639.7,26.9 640.2,27.2 640.9,26.9C641.6,26.7 642.8,25.2 643.1,24.8" fill="none" stroke="#ea1f27" stroke-width="1.9" />
<path d="M491.1,140.5C492.1,140.4 494.9,140.5 496.9,139.7C499.0,138.9 501.1,136.7 503.2,135.9C505.3,135.1 507.6,134.5 509.5,134.9C511.4,135.2 513.0,136.5 514.8,138.0C516.6,139.6 518.6,142.4 520.3,144.3C522.0,146.2 522.9,148.3 524.7,149.5C526.5,150.8 529.1,151.4 531.3,151.6C533.5,151.9 535.7,150.9 537.9,151.0C540.1,151.1 542.3,151.1 544.5,152.3C546.7,153.4 548.9,155.9 551.1,157.9C553.4,159.9 555.8,162.7 557.8,164.2C559.7,165.7 560.4,166.0 562.7,166.7C564.9,167.4 568.5,168.0 571.3,168.4C574.2,168.7 576.9,169.1 579.6,168.8C582.4,168.4 585.1,167.6 587.9,166.3C590.6,165.0 593.4,163.5 596.1,161.0C598.9,158.6 602.0,155.1 604.4,151.6C606.8,148.1 608.5,143.6 610.6,140.1C612.7,136.6 614.7,133.1 616.8,130.7C618.9,128.3 620.9,126.8 623.0,125.9C625.0,124.9 627.2,124.8 629.2,125.0C631.1,125.3 633.0,126.2 634.7,127.1C636.4,128.1 637.9,129.7 639.3,130.7C640.8,131.7 642.9,133.0 643.6,133.4" fill="none" stroke="#ea1f27" stroke-width="1.9" />
<path d="M491.1,141.2C492.4,141.3 496.3,141.8 499.0,141.8C501.8,141.8 504.8,140.9 507.4,141.2C510.0,141.4 512.5,142.0 514.8,143.3C517.1,144.5 519.2,146.7 521.4,148.5C523.6,150.2 526.0,152.3 528.0,153.7C530.0,155.1 531.7,155.8 533.5,156.9C535.4,157.9 536.8,158.3 539.0,160.0C541.2,161.7 544.0,165.1 546.7,167.3C549.5,169.6 552.9,172.2 555.6,173.6C558.2,175.0 559.7,175.2 562.7,175.7C565.6,176.2 569.9,176.6 573.4,176.7C576.9,176.8 580.6,176.8 583.7,176.3C586.8,175.8 589.2,175.3 592.0,173.6C594.8,171.9 597.9,169.4 600.3,166.3C602.7,163.1 604.6,158.3 606.5,154.8C608.4,151.3 609.9,147.6 611.6,145.3C613.3,143.1 614.5,142.1 616.8,141.2C619.0,140.2 622.7,140.2 625.0,139.7C627.4,139.2 629.4,138.8 631.0,138.0C632.6,137.2 633.5,135.2 634.7,134.9C635.9,134.5 636.9,135.0 638.4,135.9C639.9,136.9 642.7,139.8 643.6,140.5" fill="none" stroke="#ea1f27" stroke-width="1.9" />
<path d="M491.1,146.4C492.4,146.6 496.3,146.7 499.0,147.4C501.8,148.1 504.6,149.7 507.4,150.6C510.2,151.5 513.0,152.2 515.9,152.7C518.8,153.2 522.1,153.2 524.7,153.7C527.3,154.2 529.3,154.4 531.3,155.8C533.3,157.2 535.0,159.5 536.8,162.1C538.7,164.7 540.3,168.4 542.3,171.5C544.4,174.7 546.7,178.3 548.9,180.9C551.1,183.5 553.3,186.0 555.6,187.2C557.8,188.5 559.7,188.0 562.7,188.5C565.6,188.9 569.9,189.6 573.4,189.7C576.9,189.9 580.6,189.9 583.7,189.3C586.8,188.7 589.2,188.4 592.0,186.2C594.8,183.9 598.0,179.5 600.3,175.7C602.5,171.9 603.9,167.0 605.4,163.1C607.0,159.3 608.0,155.1 609.6,152.7C611.1,150.2 612.7,149.3 614.7,148.5C616.8,147.7 619.9,147.9 621.9,148.1C624.0,148.2 625.6,148.9 627.1,149.5C628.6,150.1 629.5,150.8 631.0,151.6C632.6,152.5 634.5,153.8 636.6,154.8C638.7,155.7 642.4,156.9 643.6,157.3" fill="none" stroke="#ea1f27" stroke-width="1.9" />
<path d="M491.1,165.2C491.9,164.2 494.2,160.7 495.9,159.0C497.6,157.2 499.2,155.7 501.1,154.8C503.0,153.8 504.9,153.7 507.4,153.3C509.9,152.9 513.4,152.6 515.9,152.3C518.4,151.9 520.5,151.2 522.5,151.0C524.5,150.8 527.1,151.0 528.0,151.0" fill="none" stroke="#ea1f27" stroke-width="1.9" />
<path d="M491.1,178.8C492.1,177.8 494.9,174.5 496.9,172.6C499.0,170.6 500.8,168.7 503.2,167.3C505.7,165.9 508.7,165.2 511.6,164.2C514.4,163.1 517.7,162.1 520.3,161.0C522.9,160.0 525.1,158.8 526.9,157.9C528.7,157.0 530.6,156.2 531.3,155.8" fill="none" stroke="#ea1f27" stroke-width="1.9" />
<path d="M491.1,184.1C492.1,183.5 494.9,182.3 496.9,180.9C499.0,179.5 500.8,177.6 503.2,175.7C505.7,173.8 508.7,171.3 511.6,169.4C514.4,167.5 517.6,166.1 520.3,164.2C523.0,162.3 526.0,159.3 528.0,157.9C530.0,156.5 531.7,156.2 532.4,155.8" fill="none" stroke="#ea1f27" stroke-width="1.9" />
<path d="M490.5,191.6C492.2,191.4 497.5,190.7 501.0,190.5C504.5,190.3 507.9,190.2 511.5,190.2C515.1,190.2 519.3,190.4 522.4,190.5C525.6,190.6 528.0,190.9 530.2,191.0C532.4,191.1 534.1,190.8 535.7,191.1C537.4,191.5 538.7,192.3 540.2,193.1C541.6,194.0 542.8,194.9 544.6,196.3C546.3,197.7 549.7,200.5 550.7,201.3" fill="none" stroke="#ea1f27" stroke-width="1.9" />
<path d="M490.5,193.7C491.7,193.5 495.5,192.9 497.8,192.6C500.1,192.3 501.8,192.1 504.1,192.1C506.4,192.0 509.0,192.2 511.5,192.3C514.0,192.4 516.7,192.6 519.1,192.6C521.5,192.6 523.9,192.5 525.8,192.2C527.6,191.9 529.5,191.2 530.2,191.0" fill="none" stroke="#ea1f27" stroke-width="1.9" />
<path d="M490.5,195.4C491.7,195.3 495.5,195.0 497.8,194.7C500.1,194.4 502.2,193.8 504.1,193.7C506.1,193.5 507.8,193.5 509.4,193.7C511.0,193.8 512.2,194.2 513.6,194.7C515.0,195.2 516.5,196.2 518.0,196.8C519.5,197.4 520.8,197.9 522.4,198.2C524.1,198.5 526.3,198.4 528.0,198.6C529.6,198.8 531.0,199.0 532.4,199.4C533.8,199.9 535.9,201.0 536.6,201.3" fill="none" stroke="#ea1f27" stroke-width="1.9" />
<path d="M518.2,201.3C518.7,201.0 520.1,199.8 520.8,199.2C521.5,198.7 522.2,198.4 522.4,198.2" fill="none" stroke="#ea1f27" stroke-width="1.9" />
<path d="M490.5,192.6C491.7,192.4 495.2,191.8 497.8,191.6C500.4,191.3 503.0,191.3 506.2,191.3C509.4,191.3 513.7,191.5 516.9,191.6C520.2,191.6 524.3,191.6 525.8,191.6" fill="none" stroke="#ea1f27" stroke-width="1.9" />
<path d="M627.1,149.5C627.6,150.6 628.8,153.7 630.1,155.8C631.4,157.9 633.2,160.5 634.7,162.1C636.3,163.7 637.9,164.6 639.3,165.2C640.8,165.9 642.9,165.8 643.6,165.9" fill="none" stroke="#ea1f27" stroke-width="1.9" />
<path d="M631.0,138.0C631.6,138.4 633.3,139.4 634.7,140.1C636.1,140.8 637.9,141.7 639.3,142.2C640.8,142.8 642.9,143.3 643.6,143.5" fill="none" stroke="#ea1f27" stroke-width="1.9" />
<path d="M629.2,125.0C629.9,125.1 632.3,124.9 633.8,125.5C635.3,126.1 636.8,127.1 638.4,128.6C640.0,130.1 642.7,133.3 643.6,134.3" fill="none" stroke="#ea1f27" stroke-width="1.9" />
<path d="M599.8,200.6C600.4,199.7 602.0,196.8 603.4,195.2C604.7,193.6 606.2,192.2 607.8,191.2C609.4,190.2 611.4,189.5 613.1,189.1C614.9,188.7 616.8,188.5 618.5,188.7C620.1,188.9 621.6,189.6 622.9,190.3C624.2,190.9 625.3,191.8 626.5,192.7C627.6,193.6 629.0,195.0 629.9,195.9C630.9,196.9 631.6,197.8 632.3,198.6C633.0,199.5 633.8,200.5 634.1,200.8" fill="none" stroke="#ea1f27" stroke-width="1.9" />
<path d="M616.0,200.8C616.8,200.2 619.5,198.3 621.1,197.0C622.7,195.8 624.4,194.3 625.6,193.2C626.8,192.2 627.3,191.4 628.2,190.5C629.2,189.6 630.2,188.5 631.5,187.8C632.9,187.2 634.4,187.0 636.3,186.6C638.2,186.1 641.9,185.3 643.0,185.0" fill="none" stroke="#ea1f27" stroke-width="1.9" />
<path d="M619.1,200.8C619.9,200.1 622.4,198.0 623.8,196.6C625.3,195.1 626.5,193.3 627.8,192.1C629.1,190.9 630.1,190.0 631.5,189.4C632.9,188.7 634.4,188.7 636.3,188.3C638.2,187.9 641.9,187.2 643.0,187.0" fill="none" stroke="#ea1f27" stroke-width="1.9" />
<path d="M621.3,200.8C622.0,200.1 624.3,197.9 625.6,196.6C626.9,195.3 628.0,193.9 629.1,193.0C630.3,192.1 631.0,191.7 632.3,191.2C633.7,190.7 635.3,190.3 637.1,190.0C638.9,189.7 642.1,189.3 643.0,189.2" fill="none" stroke="#ea1f27" stroke-width="1.9" />
<path d="M628.2,193.0C628.8,193.1 630.3,193.5 631.5,193.6C632.7,193.7 634.2,193.8 635.5,193.6C636.8,193.4 638.2,192.8 639.5,192.5C640.7,192.2 642.4,191.9 643.0,191.8" fill="none" stroke="#ea1f27" stroke-width="1.9" />
<path d="M629.9,195.9C630.6,196.2 632.5,197.1 633.9,197.5C635.4,197.9 637.2,198.2 638.7,198.5C640.2,198.7 642.3,198.9 643.0,199.0" fill="none" stroke="#ea1f27" stroke-width="1.9" />
<path d="M626.3,200.8C626.8,200.2 628.3,198.0 629.1,197.0C630.0,196.0 630.6,195.3 631.5,194.8C632.5,194.3 634.2,194.1 634.7,194.0" fill="none" stroke="#ea1f27" stroke-width="1.9" />
</g>
<line x1="491.3" y1="140.0" x2="491.3" y2="75.0" stroke="#3b54a4" stroke-width="1.6" />
<polygon points="491.3,67.5 494.5,77.5 491.3,74.5 488.1,77.5" fill="#3b54a4"/>
<line x1="629.0" y1="124.4" x2="520.9" y2="83.2" stroke="#3b54a4" stroke-width="1.6" />
<polygon points="513.9,80.5 524.4,81.1 520.4,83.0 522.1,87.1" fill="#3b54a4"/>
<line x1="484.6" y1="53.4" x2="491.2" y2="53.4" stroke="#000" stroke-width="1.1" />
<text x="480.8" y="58.0" font-size="13" text-anchor="end" fill="#000" >2</text>
<line x1="484.6" y1="112.2" x2="491.2" y2="112.2" stroke="#000" stroke-width="1.1" />
<text x="480.8" y="116.8" font-size="13" text-anchor="end" fill="#000" >0</text>
<line x1="484.6" y1="171.0" x2="491.2" y2="171.0" stroke="#000" stroke-width="1.1" />
<text x="480.8" y="175.6" font-size="13" text-anchor="end" fill="#000" >-2</text>
<text transform="translate(460.5,115) rotate(-90)" font-size="14" text-anchor="middle"><tspan font-style="italic">E</tspan> − <tspan font-style="italic">E</tspan><tspan font-size="9" dy="2.5">F</tspan><tspan dy="-2.5"> (eV)</tspan></text>
<text x="491.1" y="216.8" font-size="13.5" text-anchor="middle" fill="#000" font-family="Liberation Serif, serif">Γ</text>
<text x="517.2" y="216.8" font-size="12.5" text-anchor="middle" fill="#000" >X</text>
<text x="559.0" y="216.8" font-size="12.5" text-anchor="middle" fill="#000" >S</text>
<text x="600.4" y="216.8" font-size="12.5" text-anchor="middle" fill="#000" >X</text>
<text x="642.2" y="216.8" font-size="13.5" text-anchor="middle" fill="#000" font-family="Liberation Serif, serif">Γ</text>
<text x="465.0" y="25.8" font-size="23.5" text-anchor="start" fill="#000" >c</text>
<text x="498" y="115.6" font-size="11.2" fill="#3b54a4" stroke="#3b54a4" stroke-width="0.25"><tspan font-style="italic">E</tspan><tspan font-size="8" dy="2.5">d</tspan><tspan dy="-2.5"> = 2.3 eV</tspan></text>
<text x="577.5" y="93" font-size="11.2" fill="#3b54a4" stroke="#3b54a4" stroke-width="0.25"><tspan font-style="italic">E</tspan><tspan font-size="8" dy="2.5">i</tspan><tspan dy="-2.5"> = 1.54 eV</tspan></text>
<clipPath id="cd"><rect x="54.7" y="254.2" width="253.2" height="168.7"/></clipPath>
<g clip-path="url(#cd)">
<path d="M54.5,421.4C57.1,421.4 64.0,421.4 70.0,421.2C76.0,421.0 84.4,420.7 90.2,420.2C96.0,419.7 100.4,419.0 105.0,418.2C109.6,417.4 112.2,416.7 117.8,415.4C123.3,414.1 130.9,413.0 138.3,410.6C145.7,408.2 155.5,404.2 162.3,401.0C169.1,397.8 175.5,393.7 179.2,391.6C182.9,389.5 182.6,389.4 184.4,388.2C186.2,387.0 187.6,386.1 190.0,384.3C192.4,382.5 195.0,380.7 198.9,377.3C202.8,373.9 208.5,368.8 213.3,364.0C218.1,359.2 222.9,354.2 227.7,348.5C232.5,342.8 238.2,335.1 242.2,329.5C246.2,323.9 248.6,320.3 251.8,314.6C255.0,308.9 258.4,302.1 261.4,295.3C264.4,288.5 267.5,280.5 269.9,273.7C272.3,266.9 274.5,258.9 275.9,254.4C277.2,250.0 277.6,248.2 278.0,247.0" fill="none" stroke="#ea1f27" stroke-width="1.8" />
<line x1="89.0" y1="422.6" x2="229.7" y2="390.9" stroke="#3b54a4" stroke-width="1.4" />
<line x1="167.0" y1="421.5" x2="265.8" y2="304.5" stroke="#3b54a4" stroke-width="1.4" />
</g>
<path d="M54.70,254.15V422.80H307.90V254.15Z" fill="none" stroke="#000" stroke-width="1.7"/>
<line x1="54.8" y1="422.8" x2="54.8" y2="429.1" stroke="#000" stroke-width="1.5" />
<text x="54.8" y="446.0" font-size="14.3" text-anchor="middle" fill="#000" >0.6</text>
<line x1="117.9" y1="422.8" x2="117.9" y2="429.1" stroke="#000" stroke-width="1.5" />
<text x="117.9" y="446.0" font-size="14.3" text-anchor="middle" fill="#000" >1.2</text>
<line x1="181.1" y1="422.8" x2="181.1" y2="429.1" stroke="#000" stroke-width="1.5" />
<text x="181.1" y="446.0" font-size="14.3" text-anchor="middle" fill="#000" >1.8</text>
<line x1="244.4" y1="422.8" x2="244.4" y2="429.1" stroke="#000" stroke-width="1.5" />
<text x="244.4" y="446.0" font-size="14.3" text-anchor="middle" fill="#000" >2.4</text>
<line x1="307.5" y1="422.8" x2="307.5" y2="429.1" stroke="#000" stroke-width="1.5" />
<text x="307.5" y="446.0" font-size="14.3" text-anchor="middle" fill="#000" >3.0</text>
<text x="178.5" y="467.1" font-size="16.6" letter-spacing="0.75" text-anchor="middle">hν (eV)</text>
<text transform="translate(35.2,334) rotate(-90)" font-size="16.4" letter-spacing="1.25" text-anchor="middle">(αhν)<tspan font-size="10.5" dy="-10" letter-spacing="0">1/2</tspan></text>
<text x="29.6" y="254.2" font-size="23.8" text-anchor="start" fill="#000" >d</text>
<text x="215.2" y="410.6" font-size="12.2" fill="#3b54a4" stroke="#3b54a4" stroke-width="0.25"><tspan font-style="italic">E</tspan><tspan font-size="8.5" dy="2.5">i</tspan><tspan dy="-2.5"> = 1.81 eV</tspan></text>
<rect x="107.0" y="264.1" width="66.6" height="110.9" fill="#fff" stroke="#000" stroke-width="1.1"/>
<line x1="101.0" y1="283.3" x2="107.0" y2="283.3" stroke="#000" stroke-width="1" />
<text x="99.2" y="287.0" font-size="10.4" text-anchor="end" fill="#000" >-3.6</text>
<line x1="101.0" y1="311.9" x2="107.0" y2="311.9" stroke="#000" stroke-width="1" />
<text x="99.2" y="315.6" font-size="10.4" text-anchor="end" fill="#000" >-4.2</text>
<line x1="101.0" y1="340.6" x2="107.0" y2="340.6" stroke="#000" stroke-width="1" />
<text x="99.2" y="344.3" font-size="10.4" text-anchor="end" fill="#000" >-4.8</text>
<line x1="101.0" y1="369.5" x2="107.0" y2="369.5" stroke="#000" stroke-width="1" />
<text x="99.2" y="373.2" font-size="10.4" text-anchor="end" fill="#000" >-5.4</text>
<line x1="113.0" y1="279.2" x2="167.2" y2="279.2" stroke="#ea1f27" stroke-width="1.2" />
<line x1="113.0" y1="338.9" x2="167.2" y2="338.9" stroke="#c34fa0" stroke-width="1.2" />
<line x1="113.0" y1="366.6" x2="167.2" y2="366.6" stroke="#000" stroke-width="1.2" />
<text x="175.3" y="283.2" font-size="10">CB<tspan font-size="6.3" dy="2.3">min</tspan></text>
<text x="175.3" y="342.5" font-size="10"><tspan font-style="italic">E</tspan><tspan font-size="6.5" dy="2.3">F</tspan></text>
<text x="175.3" y="370.4" font-size="10">VB<tspan font-size="6.3" dy="2.3">max</tspan></text>
<line x1="117.2" y1="322.9" x2="117.2" y2="285.8" stroke="#3b54a4" stroke-width="1.3" />
<polygon points="117.2,279.8 119.9,288.3 117.2,285.3 114.5,288.3" fill="#3b54a4"/>
<line x1="117.2" y1="322.9" x2="117.2" y2="360.0" stroke="#3b54a4" stroke-width="1.3" />
<polygon points="117.2,366.0 114.5,357.5 117.2,360.5 119.9,357.5" fill="#3b54a4"/>
<text x="117.8" y="319.8" font-size="9.3" fill="#3b54a4" stroke="#3b54a4" stroke-width="0.25"><tspan font-style="italic">E</tspan><tspan font-size="6.5" dy="2.2">g</tspan><tspan dy="-2.2"> = 1.81 eV</tspan></text>
<text transform="translate(73.8,319.6) rotate(-90)" font-size="11.2" text-anchor="middle">Energy (eV)</text>
<clipPath id="ce"><rect x="389.7" y="253.2" width="253.2" height="169.7"/></clipPath>
<g clip-path="url(#ce)">
<polyline points="389.7,415.8 390.8,416.1 391.9,417.7 393.0,416.9 394.1,416.6 395.2,416.7 396.3,415.3 397.4,415.6 398.5,416.3 399.6,417.3 400.7,415.3 401.8,414.8 402.9,414.4 404.0,415.7 405.1,416.3 406.2,415.2 407.3,416.6 408.4,417.4 409.5,417.3 410.6,417.1 411.7,416.0 412.8,415.0 413.9,415.5 415.0,414.8 416.1,414.6 417.2,414.6 418.3,414.2 419.4,414.9 420.5,415.2 421.6,416.4 422.7,416.3 423.8,416.6 424.9,416.4 426.0,416.7 427.1,416.4 428.2,415.9 429.3,417.1 430.4,417.8 431.5,417.9 432.6,417.7 433.7,416.8 434.8,416.0 435.9,415.7 437.0,415.1 438.1,416.1 439.2,415.9 440.3,416.8 441.4,416.4 442.5,417.3 443.6,417.6 444.7,416.1 445.8,415.6 446.9,416.7 448.0,416.5 449.1,417.4 450.2,416.8 451.3,415.8 452.4,416.3 453.5,416.9 454.6,416.2 455.7,415.5 456.8,415.5 457.9,416.8 459.0,417.1 460.1,416.1 461.2,415.7 462.3,415.2 463.4,414.7 464.5,416.0 465.6,415.5 466.7,415.9 467.8,416.0 468.9,415.5 470.0,416.3 471.1,415.6 472.2,416.2 473.3,415.5 474.4,415.6 475.5,415.3 476.6,415.3 477.7,416.6 478.8,417.1 479.9,416.4 481.0,417.2 482.1,416.3 483.2,416.1 484.3,416.9 485.4,416.9 486.5,415.9 487.6,417.0 488.7,416.2 489.8,415.7 490.9,415.4 492.0,413.4 493.1,411.9 494.2,410.2 495.3,409.6 496.4,412.1 497.5,413.5 498.6,413.8 499.7,412.0 500.8,410.5 501.9,410.1 503.0,408.0 504.1,406.1 505.2,405.1 506.3,403.6 507.4,402.4 508.5,403.3 509.6,405.2 510.7,405.8 511.8,406.2 512.9,407.7 514.0,409.5 515.1,408.6 516.2,409.4 517.3,409.5 518.4,408.8 519.5,407.6 520.6,405.9 521.7,404.4 522.8,405.5 523.9,404.4 525.0,404.6 526.1,403.5 527.2,404.0 528.3,403.7 529.4,402.3 530.5,400.5 531.6,400.3 532.7,398.2 533.8,396.3 534.9,395.4 536.0,394.9 537.1,393.8 538.2,392.1 539.3,392.2 540.4,390.2 541.5,388.1 542.6,387.1 543.7,386.6 544.8,384.9 545.9,383.9 547.0,383.3 548.1,383.0 549.2,381.5 550.3,380.7 551.4,381.1 552.5,381.2 553.6,380.0 554.7,378.9 555.8,377.5 556.9,375.2 558.0,373.1 559.1,370.9 560.2,372.2 561.3,371.3 562.4,371.3 563.5,365.5 564.6,364.5 565.7,362.4 566.8,361.7 567.9,358.2 569.0,359.1 570.1,353.8 571.2,352.4 572.3,351.9 573.4,351.6 574.5,349.8 575.6,347.8 576.7,346.3 577.8,345.2 578.9,340.8 580.0,339.1 581.1,338.3 582.2,336.8 583.3,332.5 584.4,331.0 585.5,329.7 586.6,326.4 587.7,323.9 588.8,320.1 589.9,318.1 591.0,316.1 592.1,311.2 593.2,310.4 594.3,310.9 595.4,309.8 596.5,307.5 597.6,303.3 598.7,301.8 599.8,299.2 600.9,295.9 602.0,295.3 603.1,289.9 604.2,289.2 605.3,283.6 606.4,282.2 607.5,280.4 608.6,278.0 609.7,278.7 610.8,277.1 611.9,275.9 613.0,276.1 614.1,271.9 615.2,267.5 616.3,266.0 617.4,266.5 618.5,263.8 619.6,261.4 620.7,263.4 621.8,263.1 622.9,261.4 624.0,262.4 625.1,259.7 626.2,258.7 627.3,257.3 628.4,256.8 629.5,256.7 630.6,256.7 631.7,256.4 632.8,255.7 633.9,255.3 635.0,254.9 636.1,254.5 637.2,254.6 638.3,255.0 639.4,255.2 640.5,255.2 641.6,255.4 642.7,254.9" fill="none" stroke="#ea1f27" stroke-width="1.7" stroke-linejoin="round"/>
<line x1="425.8" y1="416.3" x2="578.7" y2="416.3" stroke="#3b54a4" stroke-width="1.4" />
<line x1="535.4" y1="421.0" x2="606.8" y2="284.5" stroke="#3b54a4" stroke-width="1.4" />
</g>
<path d="M389.70,254.15V422.80H642.90V254.15Z" fill="none" stroke="#000" stroke-width="1.7"/>
<line x1="425.8" y1="422.8" x2="425.8" y2="429.1" stroke="#000" stroke-width="1.5" />
<text x="425.8" y="446.0" font-size="14.3" text-anchor="middle" fill="#000" >0.8</text>
<line x1="498.0" y1="422.8" x2="498.0" y2="429.1" stroke="#000" stroke-width="1.5" />
<text x="498.0" y="446.0" font-size="14.3" text-anchor="middle" fill="#000" >1.2</text>
<line x1="570.2" y1="422.8" x2="570.2" y2="429.1" stroke="#000" stroke-width="1.5" />
<text x="570.2" y="446.0" font-size="14.3" text-anchor="middle" fill="#000" >1.6</text>
<line x1="642.4" y1="422.8" x2="642.4" y2="429.1" stroke="#000" stroke-width="1.5" />
<text x="642.4" y="446.0" font-size="14.3" text-anchor="middle" fill="#000" >2.0</text>
<text x="513.5" y="467.1" font-size="16.6" letter-spacing="0.75" text-anchor="middle">hν (eV)</text>
<text transform="translate(370.2,334) rotate(-90)" font-size="16.4" letter-spacing="1.25" text-anchor="middle">(αhν)<tspan font-size="10.5" dy="-10" letter-spacing="0">1/2</tspan></text>
<text x="362.0" y="254.4" font-size="23.8" text-anchor="start" fill="#000" >e</text>
<text x="557.3" y="401.7" font-size="12.2" fill="#3b54a4" stroke="#3b54a4" stroke-width="0.25"><tspan font-style="italic">E</tspan><tspan font-size="8.5" dy="2.5">i</tspan><tspan dy="-2.5"> = 1.41 eV</tspan></text>
<rect x="442.2" y="264.8" width="66.6" height="110.4" fill="#fff" stroke="#000" stroke-width="1.1"/>
<line x1="436.2" y1="264.8" x2="442.2" y2="264.8" stroke="#000" stroke-width="1" />
<text x="434.4" y="268.5" font-size="10.4" text-anchor="end" fill="#000" >-3.6</text>
<line x1="436.2" y1="299.4" x2="442.2" y2="299.4" stroke="#000" stroke-width="1" />
<text x="434.4" y="303.1" font-size="10.4" text-anchor="end" fill="#000" >-4.2</text>
<line x1="436.2" y1="334.3" x2="442.2" y2="334.3" stroke="#000" stroke-width="1" />
<text x="434.4" y="338.0" font-size="10.4" text-anchor="end" fill="#000" >-4.8</text>
<line x1="436.2" y1="369.2" x2="442.2" y2="369.2" stroke="#000" stroke-width="1" />
<text x="434.4" y="372.9" font-size="10.4" text-anchor="end" fill="#000" >-5.4</text>
<line x1="447.7" y1="283.6" x2="501.9" y2="283.6" stroke="#ea1f27" stroke-width="1.2" />
<line x1="447.7" y1="331.4" x2="501.9" y2="331.4" stroke="#c34fa0" stroke-width="1.2" />
<line x1="447.7" y1="365.4" x2="501.9" y2="365.4" stroke="#000" stroke-width="1.2" />
<text x="510.5" y="287.6" font-size="10">CB<tspan font-size="6.3" dy="2.3">min</tspan></text>
<text x="510.5" y="335.0" font-size="10"><tspan font-style="italic">E</tspan><tspan font-size="6.5" dy="2.3">F</tspan></text>
<text x="510.5" y="369.2" font-size="10">VB<tspan font-size="6.3" dy="2.3">max</tspan></text>
<line x1="451.7" y1="324.5" x2="451.7" y2="290.2" stroke="#3b54a4" stroke-width="1.3" />
<polygon points="451.7,284.2 454.4,292.7 451.7,289.7 449.0,292.7" fill="#3b54a4"/>
<line x1="451.7" y1="324.5" x2="451.7" y2="358.8" stroke="#3b54a4" stroke-width="1.3" />
<polygon points="451.7,364.8 449.0,356.3 451.7,359.3 454.4,356.3" fill="#3b54a4"/>
<text x="453.0" y="319.9" font-size="9.3" fill="#3b54a4" stroke="#3b54a4" stroke-width="0.25"><tspan font-style="italic">E</tspan><tspan font-size="6.5" dy="2.2">g</tspan><tspan dy="-2.2"> = 1.41 eV</tspan></text>
<text transform="translate(408.8,326.2) rotate(-90)" font-size="11.2" text-anchor="middle">Energy (eV)</text>
<defs><filter id="bl" x="-20%" y="-50%" width="140%" height="200%"><feGaussianBlur stdDeviation="1.6"/></filter></defs><g filter="url(#bl)" fill="#fff" opacity="0.55"><ellipse cx="563" cy="421" rx="8" ry="4.5"/><ellipse cx="586" cy="421" rx="10" ry="4.5"/><ellipse cx="606" cy="421" rx="5" ry="4.5"/><ellipse cx="629" cy="421.5" rx="9" ry="5"/></g>
<g id="wm"><ellipse cx="510.5" cy="445.5" rx="9.3" ry="7.8" fill="#fff" stroke="#bbb" stroke-width="0.6"/><ellipse cx="519" cy="450" rx="7" ry="5.8" fill="#fff" stroke="#bbb" stroke-width="0.6"/><circle cx="508" cy="443.5" r="0.9" fill="#aaa"/><circle cx="514" cy="443.5" r="0.9" fill="#aaa"/><circle cx="516.7" cy="449" r="0.7" fill="#aaa"/><circle cx="521.3" cy="449" r="0.7" fill="#aaa"/>
<text x="533.5" y="455" font-size="16" fill="#fff" style="font-family:'Liberation Sans','Noto Sans CJK SC',sans-serif;text-shadow:1px 1px 0.6px rgba(30,30,30,.85),0 0 1px rgba(60,60,60,.55)" textLength="111">材料科学与工程</text></g>
</svg>
</body></html>
